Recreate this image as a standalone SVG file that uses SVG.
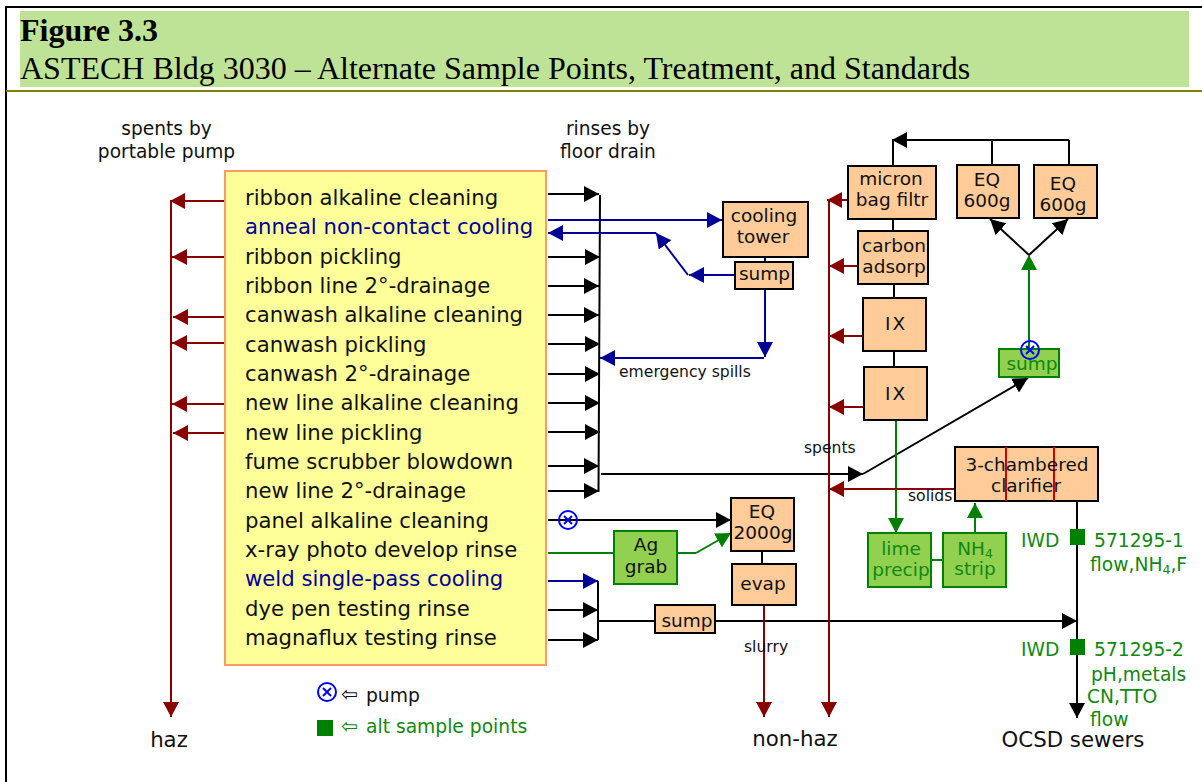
<svg xmlns="http://www.w3.org/2000/svg" width="1202" height="782" viewBox="0 0 1202 782">
<style>
text{font-family:"DejaVu Sans","Liberation Sans",sans-serif;fill:#111}
.h{font-family:"Liberation Serif","Times New Roman",serif;font-size:32px;fill:#000}
.li{font-size:21.2px}
.lb{font-size:18.5px;text-anchor:middle}
.m{text-anchor:middle}
.t{font-size:18.6px;text-anchor:middle}
.e2{font-size:21.3px;text-anchor:middle}
.s{font-size:15.6px}
.b{fill:#000099}
.g{fill:#118811}
.gt{fill:#118811;font-size:18.7px}
.n{fill:#ffcc99;stroke:#000;stroke-width:2}
.gn{fill:#92d050;stroke:#008000;stroke-width:2}
.k,.u,.r,.e{fill:none;stroke-width:2}
.k{stroke:#000}.u{stroke:#000099}.r{stroke:#880000}.e{stroke:#008000}
.ah{fill:#000}.ahu{fill:#000099}.ahr{fill:#880000}.ahg{fill:#008000}
.pump{fill:none;stroke:#0000ff;stroke-width:2}
</style>
<defs>
<marker id="mk" markerUnits="userSpaceOnUse" markerWidth="16" markerHeight="16" refX="15" refY="8" orient="auto"><path d="M0 0L15 8L0 16z" class="ah"/></marker>
<marker id="mu" markerUnits="userSpaceOnUse" markerWidth="16" markerHeight="16" refX="15" refY="8" orient="auto"><path d="M0 0L15 8L0 16z" class="ahu"/></marker>
<marker id="mr" markerUnits="userSpaceOnUse" markerWidth="16" markerHeight="16" refX="15" refY="8" orient="auto"><path d="M0 0L15 8L0 16z" class="ahr"/></marker>
<marker id="mg" markerUnits="userSpaceOnUse" markerWidth="16" markerHeight="16" refX="15" refY="8" orient="auto"><path d="M0 0L15 8L0 16z" class="ahg"/></marker>
</defs>
<rect x="0" y="0" width="1202" height="782" fill="#fff"/>
<path d="M6 782V7H1202" fill="none" stroke="#000" stroke-width="2"/>
<rect x="20" y="11" width="1169" height="76" fill="#bfe396"/>
<rect x="6" y="90" width="1196" height="2" fill="#808000"/>
<text class="h" x="20" y="41" font-weight="bold">Figure 3.3</text>
<text class="h" x="20" y="79">ASTECH Bldg 3030 – Alternate Sample Points, Treatment, and Standards</text>

<g id="connectors">
<path class="k" d="M600 195L598.5 492M598 581V640"/>
<path class="k" d="M601 474H863" marker-end="url(#mk)"/>
<path class="k" d="M863 474L1028 378" marker-end="url(#mk)"/>
<path class="k" d="M548 194H599" marker-end="url(#mk)"/>
<path class="k" d="M548 257H600" marker-end="url(#mk)"/>
<path class="k" d="M548 286H599" marker-end="url(#mk)"/>
<path class="k" d="M548 315H599" marker-end="url(#mk)"/>
<path class="k" d="M548 344H600" marker-end="url(#mk)"/>
<path class="k" d="M548 374H600" marker-end="url(#mk)"/>
<path class="k" d="M548 403H600" marker-end="url(#mk)"/>
<path class="k" d="M548 432H600" marker-end="url(#mk)"/>
<path class="k" d="M548 466H599" marker-end="url(#mk)"/>
<path class="k" d="M548 491H599" marker-end="url(#mk)"/>
<path class="k" d="M548 520H731" marker-end="url(#mk)"/>
<path class="k" d="M548 610H598" marker-end="url(#mk)"/>
<path class="k" d="M548 640H598" marker-end="url(#mk)"/>
<path class="u" d="M548 581H598" marker-end="url(#mu)"/>
<path class="u" d="M548 220H722" marker-end="url(#mu)"/>
<path class="u" d="M656 233H548" marker-end="url(#mu)"/>
<path class="u" d="M688 275L656 233" marker-end="url(#mu)"/>
<path class="u" d="M735 275H689" marker-end="url(#mu)"/>
<path class="u" d="M765 257V357" marker-end="url(#mu)"/>
<path class="u" d="M764 358H600" marker-end="url(#mu)"/>
<path class="k" d="M598 621H1077" marker-end="url(#mk)"/>
<path class="k" d="M1077 500V718" marker-end="url(#mk)"/>
<path class="k" d="M762 550V564M893 166V140M992 165V140M1069 165V140M893 140H1069"/>
<path class="k" d="M990 140H892" marker-end="url(#mk)"/>
<path class="k" d="M893 218V232M894 284V298M894 350V367"/>
<path class="k" d="M1029 255L990 219" marker-end="url(#mk)"/>
<path class="k" d="M1029 255L1068 219" marker-end="url(#mk)"/>
<path class="e" d="M1029 350V255" marker-end="url(#mg)"/>
<path class="e" d="M896 420V533" marker-end="url(#mg)"/>
<path class="e" d="M975 533V503" marker-end="url(#mg)"/>
<path class="e" d="M931 560H943"/>
<path class="e" d="M548 553H614M677 553H696"/>
<path class="e" d="M696 553L731 533" marker-end="url(#mg)"/>
<path class="r" d="M764 605V717" marker-end="url(#mr)"/>
<path class="r" d="M829 200V717" marker-end="url(#mr)"/>
<path class="r" d="M171 201V717" marker-end="url(#mr)"/>
<path class="r" d="M225 201H170" marker-end="url(#mr)"/>
<path class="r" d="M225 257H172" marker-end="url(#mr)"/>
<path class="r" d="M225 317H173" marker-end="url(#mr)"/>
<path class="r" d="M225 343H172" marker-end="url(#mr)"/>
<path class="r" d="M225 404H172" marker-end="url(#mr)"/>
<path class="r" d="M225 433H173" marker-end="url(#mr)"/>
<path class="r" d="M847 200H827" marker-end="url(#mr)"/>
<path class="r" d="M857 266H829" marker-end="url(#mr)"/>
<path class="r" d="M863 336H829" marker-end="url(#mr)"/>
<path class="r" d="M863 407H829" marker-end="url(#mr)"/>
<path class="r" d="M955 489H829" marker-end="url(#mr)"/>
</g>

<g id="process-list">
<rect x="225" y="171" width="321" height="494" fill="#ffff99" stroke="#ff9966" stroke-width="2"/>
<text class="li" x="245" y="205">ribbon alkaline cleaning</text>
<text class="li b" x="245" y="234">anneal non-contact cooling</text>
<text class="li" x="245" y="264">ribbon pickling</text>
<text class="li" x="245" y="293">ribbon line 2°-drainage</text>
<text class="li" x="245" y="322">canwash alkaline cleaning</text>
<text class="li" x="245" y="352">canwash pickling</text>
<text class="li" x="245" y="381">canwash 2°-drainage</text>
<text class="li" x="245" y="410">new line alkaline cleaning</text>
<text class="li" x="245" y="440">new line pickling</text>
<text class="li" x="245" y="469">fume scrubber blowdown</text>
<text class="li" x="245" y="498">new line 2°-drainage</text>
<text class="li" x="245" y="528">panel alkaline cleaning</text>
<text class="li" x="245" y="557">x-ray photo develop rinse</text>
<text class="li b" x="245" y="586">weld single-pass cooling</text>
<text class="li" x="245" y="616">dye pen testing rinse</text>
<text class="li" x="245" y="645">magnaflux testing rinse</text>
</g>
<g id="cooling-tower"><rect class="n" x="723" y="202" width="85" height="55"/><text class="lb" x="764" y="222">cooling</text><text class="lb" x="763" y="243">tower</text></g>
<g id="sump-1"><rect class="n" x="735" y="262" width="58" height="27"/><text class="lb" x="764.5" y="280">sump</text></g>
<g id="micron"><rect class="n" x="848" y="166" width="88" height="53"/><text class="lb" x="891" y="185">micron</text><text class="lb" x="892" y="206">bag filtr</text></g>
<g id="eq-1"><rect class="n" x="957" y="165" width="62" height="53"/><text class="lb" x="987" y="186">EQ</text><text class="lb" x="987" y="207">600g</text></g>
<g id="eq-2"><rect class="n" x="1034" y="165" width="63" height="53"/><text class="lb" x="1063" y="190">EQ</text><text class="lb" x="1063" y="211">600g</text></g>
<g id="carbon"><rect class="n" x="858" y="231" width="70" height="53"/><text class="lb" x="894" y="252">carbon</text><text class="lb" x="894" y="273">adsorp</text></g>
<g id="ix-1"><rect class="n" x="863" y="298" width="63" height="53"/><text class="lb" x="896" y="330" letter-spacing="2">IX</text></g>
<g id="ix-2"><rect class="n" x="864" y="367" width="63" height="53"/><text class="lb" x="896" y="400" letter-spacing="2">IX</text></g>
<g id="sump-2"><rect class="gn" x="999" y="349" width="60" height="28"/><text class="lb g" x="1032" y="370">sump</text></g>
<g id="clarifier"><rect class="n" x="955" y="447" width="143" height="54"/><path d="M1006 447V501M1054 447V501" stroke="#cc0000" stroke-width="2"/><text class="lb" x="1027" y="471">3-chambered</text><text class="lb" x="1026" y="492">clarifier</text></g>
<g id="lime"><rect class="gn" x="868" y="533" width="63" height="54"/><text class="lb g" x="901" y="555">lime</text><text class="lb g" x="901" y="576" font-size="18">precip</text></g>
<g id="nh4"><rect class="gn" x="943" y="533" width="63" height="54"/><text class="lb g" x="975" y="555">NH<tspan font-size="12.5" dy="3">4</tspan></text><text class="lb g" x="975" y="575">strip</text></g>
<g id="eq-3"><rect class="n" x="731" y="498" width="63" height="53"/><text class="lb" x="762" y="518">EQ</text><text class="lb" x="763" y="539">2000g</text></g>
<g id="evap"><rect class="n" x="732" y="564" width="64" height="41"/><text class="lb" x="763" y="590">evap</text></g>
<g id="ag"><rect class="gn" x="614" y="531" width="63" height="53"/><text class="lb" x="646" y="551">Ag</text><text class="lb" x="646" y="573">grab</text></g>
<g id="sump-3"><rect class="n" x="655" y="605" width="60" height="28"/><text class="lb" x="687" y="627">sump</text></g>

<g id="pump-1"><circle class="pump" cx="568" cy="520" r="9"/><path class="pump" d="M564 516L572 524M572 516L564 524"/></g>
<g id="pump-2"><circle class="pump" cx="1030" cy="350" r="9"/><path class="pump" d="M1026 346L1034 354M1034 346L1026 354"/></g>
<g id="pump-legend"><circle class="pump" cx="327" cy="692" r="9"/><path class="pump" d="M323 688L331 696M331 688L323 696"/></g>
<g id="sample-points" fill="#008000"><rect x="317" y="720" width="16" height="16"/><rect x="1070" y="529" width="15" height="16"/><rect x="1070" y="639" width="15" height="16"/></g>

<g id="labels">
<text class="t" x="166.5" y="135">spents by</text>
<text class="t" x="166.5" y="158">portable pump</text>
<text class="t" x="608" y="135">rinses by</text>
<text class="t" x="608" y="158">floor drain</text>
<text class="s" x="619" y="377">emergency spills</text>
<text class="s" x="804" y="453">spents</text>
<text class="s" x="908" y="501">solids</text>
<text class="s" x="744" y="652">slurry</text>
<text class="e2" x="169" y="747">haz</text>
<text class="e2" x="795" y="746">non-haz</text>
<text class="e2" x="1073" y="747">OCSD sewers</text>
<text x="341" y="701" font-size="20">⇦</text>
<text x="366" y="702" font-size="18.7">pump</text>
<text class="g" x="341" y="733" font-size="20">⇦</text>
<text class="g" x="366" y="733" font-size="18.7">alt sample points</text>
<text class="gt" x="1021" y="547">IWD</text>
<text class="gt" x="1094" y="547">571295-1</text>
<text class="gt" x="1090" y="571">flow,NH<tspan font-size="12.5" dy="3">4</tspan><tspan dy="-3">,F</tspan></text>
<text class="gt" x="1021" y="656">IWD</text>
<text class="gt" x="1094" y="656">571295-2</text>
<text class="gt" x="1091" y="681">pH,metals</text>
<text class="gt" x="1087" y="703">CN,TTO</text>
<text class="gt" x="1090" y="726">flow</text>
</g>
</svg>
